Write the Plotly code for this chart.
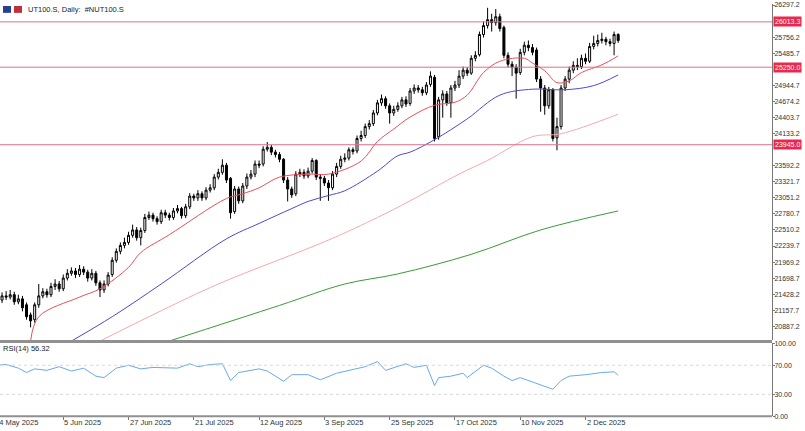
import plotly.graph_objects as go

W, H = 805, 431

# daily bars, 14 May 2025 .. 12 Dec 2025 (bar index = trading day)
opens = [21300,21330,21400,21380,21420,21300,21350,21250,21080,21000,
         21250,21400,21470,21420,21560,21600,21520,21700,21780,21820,
         21760,21850,21800,21700,21780,21620,21500,21600,21760,22000,
         22150,22250,22300,22420,22510,22380,22500,22720,22760,22700,
         22650,22800,22760,22720,22830,22870,22750,22900,23080,23050,
         23120,23050,23180,23220,23400,23480,23600,23380,22820,23200,
         23000,23250,23400,23450,23620,23620,23870,23900,23820,23780,
         23700,23350,23200,23120,23450,23480,23420,23500,23680,23400,
         23380,23300,23220,23450,23580,23700,23720,23860,23840,24050,
         24100,24250,24300,24480,24650,24720,24600,24480,24540,24600,
         24700,24640,24850,24900,24870,24820,24960,25080,24080,24700,
         24800,24650,24900,24950,25100,25200,25150,25400,25460,25800,
         25950,26050,26000,26100,25920,25450,25300,25250,25160,25500,
         25620,25580,25540,25050,24900,24600,24870,24060,24250,24900,
         25050,25200,25280,25260,25400,25350,25600,25650,25700,25720,
         25680,25650,25800]
highs = [21400,21460,21480,21500,21470,21420,21400,21290,21120,21290,
         21600,21530,21520,21620,21680,21650,21760,21850,21880,21870,
         21920,21900,21840,21850,21820,21660,21660,21800,22050,22200,
         22300,22380,22480,22600,22560,22550,22780,22820,22800,22740,
         22850,22850,22800,22880,22930,22900,22950,23130,23120,23180,
         23160,23230,23280,23450,23540,23700,23640,23400,23250,23240,
         23300,23460,23520,23680,23680,23920,23990,23940,23860,23820,
         23720,23400,23240,23500,23540,23530,23560,23720,23700,23450,
         23420,23350,23500,23640,23760,23800,23900,23900,24100,24180,
         24300,24360,24530,24700,24790,24760,24640,24600,24660,24750,
         24760,24900,24960,24950,24920,25000,25180,25120,24750,24860,
         24850,24950,25020,25200,25260,25250,25450,25520,25850,26020,
         26250,26150,26230,26150,25950,25500,25350,25300,25560,25680,
         25700,25640,25580,25100,24950,24920,24900,24400,24950,25100,
         25260,25350,25400,25460,25480,25660,25780,25800,25830,25760,
         25730,25850,25820]
lows = [21240,21280,21330,21340,21250,21260,21140,21000,20870,20950,
        21200,21360,21370,21380,21500,21470,21480,21660,21740,21700,
        21720,21750,21640,21660,21570,21380,21450,21560,21720,21960,
        22100,22200,22260,22380,22330,22250,22460,22680,22650,22600,
        22610,22710,22670,22680,22790,22700,22710,22860,23000,23000,
        23000,23010,23140,23180,23360,23440,23300,22700,22780,22950,
        22960,23200,23360,23400,23550,23580,23830,23770,23730,23650,
        23300,22990,23050,23080,23400,23370,23380,23460,23350,23000,
        23250,23000,23180,23400,23540,23650,23680,23780,23800,24000,
        24060,24200,24260,24440,24600,24550,24300,24430,24500,24560,
        24580,24600,24800,24820,24770,24780,24920,24000,24030,24400,
        24600,24400,24850,24900,25050,25100,25120,25350,25430,25750,
        25900,25850,25950,25850,25400,25250,25100,24720,25120,25450,
        25520,25450,25000,24500,24450,24550,24000,23850,24200,24850,
        24980,25150,25200,25220,25300,25320,25550,25600,25650,25620,
        25600,25450,25660]
closes = [21330,21400,21380,21420,21300,21350,21200,21050,20980,21250,
          21400,21470,21420,21560,21600,21520,21700,21780,21820,21760,
          21850,21800,21700,21780,21620,21500,21600,21750,22000,22150,
          22250,22300,22420,22510,22380,22500,22720,22760,22700,22650,
          22800,22760,22720,22830,22870,22750,22900,23080,23050,23120,
          23050,23180,23220,23400,23480,23600,23350,22800,23200,23000,
          23250,23400,23450,23620,23600,23870,23900,23820,23780,23700,
          23350,23200,23100,23450,23480,23420,23500,23680,23400,23380,
          23300,23220,23450,23580,23700,23720,23860,23830,24050,24100,
          24250,24300,24480,24650,24720,24600,24480,24540,24600,24700,
          24630,24850,24900,24870,24820,24950,25100,24050,24700,24800,
          24650,24900,24950,25100,25200,25150,25400,25450,25800,25950,
          26050,26000,26100,25900,25450,25300,25250,25150,25500,25620,
          25580,25500,25050,24900,24600,24870,24050,24250,24900,25050,
          25200,25280,25260,25400,25350,25600,25650,25700,25720,25680,
          25650,25800,25700]
bars = list(range(len(closes)))

# moving averages at sample bars
ma_fast_x = [8, 10, 20, 25, 32, 35, 42, 56, 60, 64, 69, 76, 81, 89, 93, 97, 101, 107, 112, 115,
             119, 123, 129, 131, 134, 137, 140, 143, 148, 152]
ma_fast_y = [20640, 21050, 21380, 21520, 21880, 22130, 22430, 23040, 23120, 23220, 23400, 23450,
             23450, 23670, 24000, 24210, 24410, 24610, 24660, 24780, 25160, 25350, 25400, 25320,
             25190, 24990, 25020, 25160, 25290, 25440]
ma_mid_x = [18, 28, 40, 56, 64, 72, 76, 81, 85, 93, 98, 101, 107, 115, 123, 131, 139, 146, 152]
ma_mid_y = [20640, 21050, 21600, 22360, 22620, 22870, 22990, 23090, 23170, 23500, 23760, 23820,
            24030, 24380, 24780, 24880, 24870, 24940, 25120]
ma_slow_x = [25, 40, 54, 81, 93, 101, 113, 120, 131, 138, 152]
ma_slow_y = [20640, 21150, 21600, 22340, 22720, 23000, 23450, 23680, 24080, 24130, 24460]
ma_long_x = [42, 69, 85, 98, 116, 133, 152]
ma_long_y = [20640, 21240, 21600, 21770, 22100, 22510, 22830]

rsi_x = [0, 2, 5, 7, 9, 12, 15, 18, 21, 24, 26, 29, 32, 35, 38, 41, 44, 47, 49, 52, 55, 57, 59,
         64, 66, 70, 72, 76, 79, 83, 87, 90, 93, 95, 100, 102, 105, 107, 108, 111, 114, 115, 119,
         121, 124, 126, 128, 131, 134, 136, 138, 140, 144, 148, 151, 152]
rsi_y = [70, 71, 66, 60, 65, 63, 68, 62, 66, 55, 53, 66, 70, 65, 67, 66, 66, 72, 68, 71, 72, 49, 60,
         65, 62, 48, 57, 57, 50, 59, 64, 68, 75, 63, 72, 67, 70, 42, 53, 55, 59, 53, 70,
         66, 55, 49, 53, 47, 42, 37, 49, 55, 57, 60, 61, 56.32]

levels = [26013.3, 25250.0, 23945.0]
date_idx = [0, 16, 32, 48, 64, 80, 96, 112, 128, 144]
date_txt = ["14 May 2025", "5 Jun 2025", "27 Jun 2025", "21 Jul 2025", "12 Aug 2025",
            "3 Sep 2025", "25 Sep 2025", "17 Oct 2025", "10 Nov 2025", "2 Dec 2025"]
price_ticks = [26297.2, 25756.2, 25485.7, 24944.7, 24674.2, 24403.7, 24133.2, 23592.2, 23321.7,
               23051.2, 22780.7, 22510.2, 22239.7, 21969.2, 21698.7, 21428.2, 21157.7, 20887.2]

FONT = "Liberation Sans"
XR = [0.5, 189.7]
AX_R = 772 / W

fig = go.Figure()
fig.add_trace(go.Candlestick(
    x=bars, open=opens, high=highs, low=lows, close=closes,
    increasing=dict(line=dict(color="black", width=1), fillcolor="white"),
    decreasing=dict(line=dict(color="black", width=1), fillcolor="black"),
    whiskerwidth=0, xaxis="x", yaxis="y", hoverinfo="skip"))
for xs, ys, col in [(ma_fast_x, ma_fast_y, "#e8505a"), (ma_mid_x, ma_mid_y, "#4a4ad0"),
                    (ma_slow_x, ma_slow_y, "#f4aaaa"), (ma_long_x, ma_long_y, "#3a9a3a")]:
    fig.add_trace(go.Scatter(x=xs, y=ys, mode="lines", line=dict(color=col, width=1),
                             line_shape="spline", xaxis="x", yaxis="y", hoverinfo="skip"))
fig.add_trace(go.Scatter(x=rsi_x, y=rsi_y, mode="lines", line=dict(color="#6aa8e8", width=1),
                         xaxis="x2", yaxis="y2", hoverinfo="skip"))

shapes = []
for lv in levels:
    shapes.append(dict(type="line", xref="paper", yref="y", x0=0, x1=AX_R, y0=lv, y1=lv,
                       line=dict(color="#e0708a", width=1)))
for lv in [70, 30]:
    shapes.append(dict(type="line", xref="paper", yref="y2", x0=0, x1=AX_R, y0=lv, y1=lv,
                       line=dict(color="#d8d8d8", width=1, dash="dot")))
# panel separator and bottom line
shapes.append(dict(type="line", xref="paper", yref="paper", x0=0, x1=AX_R,
                   y0=(H - 343) / H, y1=(H - 343) / H, line=dict(color="#909090", width=3)))
shapes.append(dict(type="line", xref="paper", yref="paper", x0=0, x1=AX_R,
                   y0=(H - 419) / H, y1=(H - 419) / H, line=dict(color="#909090", width=2)))
# symbol icons
shapes.append(dict(type="rect", xref="paper", yref="paper", x0=3 / W, x1=11 / W,
                   y0=(H - 9) / H, y1=(H - 2) / H, fillcolor="#2a3f8f", line=dict(width=0)))
shapes.append(dict(type="rect", xref="paper", yref="paper", x0=14 / W, x1=22 / W,
                   y0=(H - 9) / H, y1=(H - 2) / H, fillcolor="#c0303a", line=dict(width=0)))

annotations = [
    dict(text="UT100.S, Daily:  #NUT100.S", xref="paper", yref="paper", x=26 / W, y=(H - 6) / H,
         xanchor="left", yanchor="middle", showarrow=False, font=dict(size=7.5, color="#222", family=FONT)),
    dict(text="RSI(14) 56.32", xref="paper", yref="paper", x=1 / W, y=(H - 350) / H,
         xanchor="left", yanchor="middle", showarrow=False, font=dict(size=7.5, color="#222", family=FONT)),
]
for lv in levels:
    annotations.append(dict(text="%.1f" % lv, xref="paper", yref="y", x=AX_R + 1 / W, y=lv,
                            xanchor="left", yanchor="middle", showarrow=False, bgcolor="#e8284c",
                            borderpad=1, font=dict(size=7, color="white", family=FONT)))
# date labels start at their tick, as in the terminal; the first tick lies just off the left edge
for d, t in zip(date_idx, date_txt):
    if d < XR[0]:
        annotations.append(dict(text=t, xref="paper", yref="paper", x=0, y=(H - 425) / H,
                                xanchor="left", yanchor="middle", xshift=-7, showarrow=False,
                                font=dict(size=7.5, color="#333", family=FONT)))
    else:
        annotations.append(dict(text=t, xref="x2", yref="paper", x=d, y=(H - 425) / H,
                                xanchor="left", yanchor="middle", xshift=-1, showarrow=False,
                                font=dict(size=7.5, color="#333", family=FONT)))

fig.update_layout(
    width=W, height=H, margin=dict(l=0, r=0, t=0, b=0),
    paper_bgcolor="white", plot_bgcolor="white", showlegend=False,
    shapes=shapes, annotations=annotations,
    xaxis=dict(domain=[0, AX_R], range=XR, anchor="y", showticklabels=False, showgrid=False,
               zeroline=False, rangeslider=dict(visible=False)),
    xaxis2=dict(domain=[0, AX_R], range=XR, anchor="y2", matches="x", showgrid=False, zeroline=False,
                tickvals=date_idx, showticklabels=False, ticks="outside", ticklen=3, tickcolor="#777"),
    yaxis=dict(domain=[(H - 342) / H, 1], range=[20650, 26314], side="right", anchor="x",
               showgrid=False, zeroline=False, showline=True, linecolor="#777",
               tickvals=price_ticks, ticktext=["%.1f" % v for v in price_ticks],
               ticks="outside", ticklen=2, tickcolor="#777", ticklabelstandoff=-2,
               tickfont=dict(size=7, color="#333", family=FONT)),
    yaxis2=dict(domain=[(H - 419) / H, (H - 345) / H], range=[0, 100], side="right", anchor="x2",
                showgrid=False, zeroline=False, showline=True, linecolor="#777",
                tickvals=[0, 30, 70, 100], ticktext=["0.00", "30.00", "70.00", "100.00"],
                ticks="outside", ticklen=2, tickcolor="#777", ticklabelstandoff=-2,
                tickfont=dict(size=7, color="#333", family=FONT)),
)

fig.write_html("out.html", config={"displayModeBar": False},
               post_script="document.body.style.margin='0';")
